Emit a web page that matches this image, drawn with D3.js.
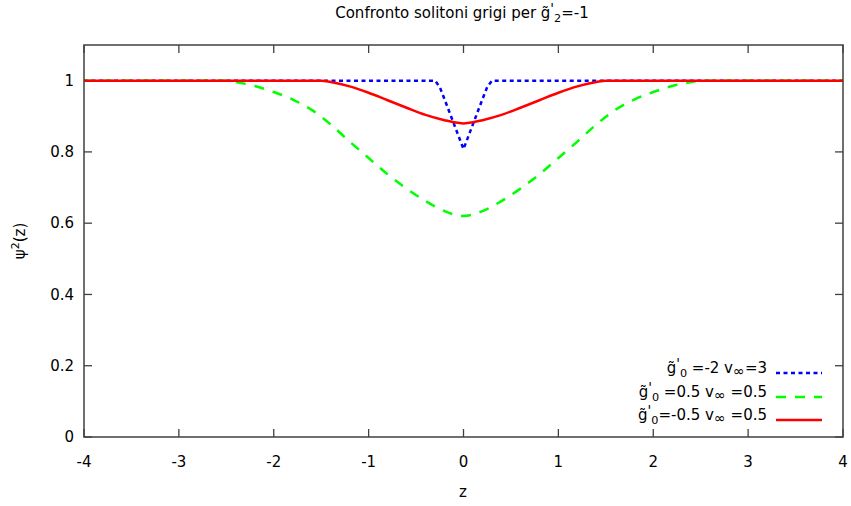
<!DOCTYPE html>
<html>
<head>
<meta charset="utf-8">
<script src="https://cdn.jsdelivr.net/npm/d3@7"></script>
<style>
  body { margin: 0; background: #fff; }
  text { font-family: "DejaVu Sans", sans-serif; fill: #000; }
</style>
</head>
<body>
<svg id="chart" width="851" height="506"></svg>
<script>
// Profiles (half profile, z >= 0, mirrored below)
const blueZ   = [0, 0.1, 0.2, 0.25, 0.3, 4];
const blueY   = [0.808, 0.878, 0.948, 0.982, 1.0, 1.0];
const greenZ  = [0, 0.2, 0.4, 0.6, 0.8, 1.0, 1.2, 1.4, 1.6, 1.8, 2.0, 2.2, 2.4, 2.5, 4];
const greenY  = [0.62, 0.634, 0.662, 0.697, 0.737, 0.783, 0.829, 0.877, 0.918, 0.947, 0.968, 0.985, 0.996, 1.0, 1.0];
const redZ    = [0, 0.1, 0.2, 0.4, 0.6, 0.8, 1.0, 1.2, 1.4, 1.5, 4];
const redY    = [0.88, 0.883, 0.889, 0.904, 0.924, 0.945, 0.966, 0.984, 0.996, 1.0, 1.0];

const xTicks = [-4, -3, -2, -1, 0, 1, 2, 3, 4];
const yTicks = [0, 0.2, 0.4, 0.6, 0.8, 1];

function mirror(zs, ys) {
  const pts = [];
  for (let i = zs.length - 1; i > 0; i--) pts.push([-zs[i], ys[i]]);
  zs.forEach((z, i) => pts.push([z, ys[i]]));
  return pts;
}

const series = [
  { pts: mirror(blueZ, blueY), color: "#0000ff", dash: "4,3.5", w: 2.5, curve: d3.curveLinear,
    label: [["g\u0303", ""], ["'", "sup"], ["0", "sub"], [" =-2 v", ""], ["\u221e", "inf"], ["=3", ""]] },
  { pts: mirror(greenZ, greenY), color: "#00ff00", dash: "10,9", w: 2.5, curve: d3.curveMonotoneX,
    label: [["g\u0303", ""], ["'", "sup"], ["0", "sub"], [" =0.5 v", ""], ["\u221e", "inf"], [" =0.5", ""]] },
  { pts: mirror(redZ, redY), color: "#ff0000", dash: null, w: 2.5, curve: d3.curveMonotoneX,
    label: [["g\u0303", ""], ["'", "sup"], ["0", "sub"], ["=-0.5 v", ""], ["\u221e", "inf"], [" =0.5", ""]] },
];

const svg = d3.select("#chart");
const L = 84, R = 843, T = 45, B = 437;
const x = d3.scaleLinear().domain([-4, 4]).range([L, R]);
const y = d3.scaleLinear().domain([0, 1.1]).range([B, T]);

const axisColor = "#404040";

// Ticks (inside, mirrored)
const tl = 8;
xTicks.forEach(t => {
  svg.append("line").attr("x1", x(t)).attr("x2", x(t)).attr("y1", B).attr("y2", B - tl)
    .attr("stroke", axisColor).attr("stroke-width", 1.3);
  svg.append("line").attr("x1", x(t)).attr("x2", x(t)).attr("y1", T).attr("y2", T + tl)
    .attr("stroke", axisColor).attr("stroke-width", 1.3);
  svg.append("text").attr("x", x(t)).attr("y", B + 30).attr("text-anchor", "middle")
    .attr("font-size", 15).text(String(t));
});
yTicks.forEach(t => {
  svg.append("line").attr("x1", L).attr("x2", L + tl).attr("y1", y(t)).attr("y2", y(t))
    .attr("stroke", axisColor).attr("stroke-width", 1.3);
  svg.append("line").attr("x1", R).attr("x2", R - tl).attr("y1", y(t)).attr("y2", y(t))
    .attr("stroke", axisColor).attr("stroke-width", 1.3);
  svg.append("text").attr("x", L - 10).attr("y", y(t)).attr("dy", "0.35em").attr("text-anchor", "end")
    .attr("font-size", 15).text(String(t));
});

// Curves
const clip = svg.append("clipPath").attr("id", "clip").append("rect")
  .attr("x", L).attr("y", T).attr("width", R - L).attr("height", B - T);
series.forEach(s => {
  const line = d3.line().x(d => x(d[0])).y(d => y(d[1])).curve(s.curve);
  svg.append("path").attr("d", line(s.pts)).attr("fill", "none")
    .attr("stroke", s.color).attr("stroke-width", s.w)
    .attr("stroke-dasharray", s.dash).attr("clip-path", "url(#clip)");
});

// Border
svg.append("rect").attr("x", L).attr("y", T).attr("width", R - L).attr("height", B - T)
  .attr("fill", "none").attr("stroke", axisColor).attr("stroke-width", 1.5);

// Rich label helper: plain, sup (prime), sub (index), inf (lowered infinity)
function rich(sel, parts, size) {
  let shift = 0;
  parts.forEach(([txt, kind]) => {
    const ts = sel.append("tspan").text(txt);
    let want = 0, fs = size;
    if (kind === "sub") { want = 4; fs = size * 0.75; }
    else if (kind === "sup") { want = -5; fs = size * 0.9; }
    else if (kind === "inf") { want = 3; fs = size * 0.95; }
    ts.attr("font-size", fs).attr("dy", want - shift);
    shift = want;
  });
}

// Legend
const legY = [373, 397, 420];
series.forEach((s, i) => {
  const t = svg.append("text").attr("x", 767).attr("y", legY[i]).attr("dy", "0.35em")
    .attr("text-anchor", "end");
  rich(t, s.label, 15);
  svg.append("line").attr("x1", 776).attr("x2", 822).attr("y1", legY[i]).attr("y2", legY[i])
    .attr("stroke", s.color).attr("stroke-width", s.w).attr("stroke-dasharray", s.dash);
});

// Title
const title = svg.append("text").attr("x", 462).attr("y", 18).attr("text-anchor", "middle");
rich(title, [["Confronto solitoni grigi per g\u0303", ""], ["'", "sup"], ["2", "sub"], ["=-1", ""]], 15);

// Axis labels
svg.append("text").attr("x", 463).attr("y", 497).attr("text-anchor", "middle")
  .attr("font-size", 15).text("z");
const yl = svg.append("text").attr("transform", "translate(25,241) rotate(-90)")
  .attr("text-anchor", "middle").attr("font-size", 15);
yl.append("tspan").text("\u03c8");
yl.append("tspan").text("2").attr("font-size", 11).attr("dy", -6);
yl.append("tspan").text("(z)").attr("dy", 6);
</script>
</body>
</html>
